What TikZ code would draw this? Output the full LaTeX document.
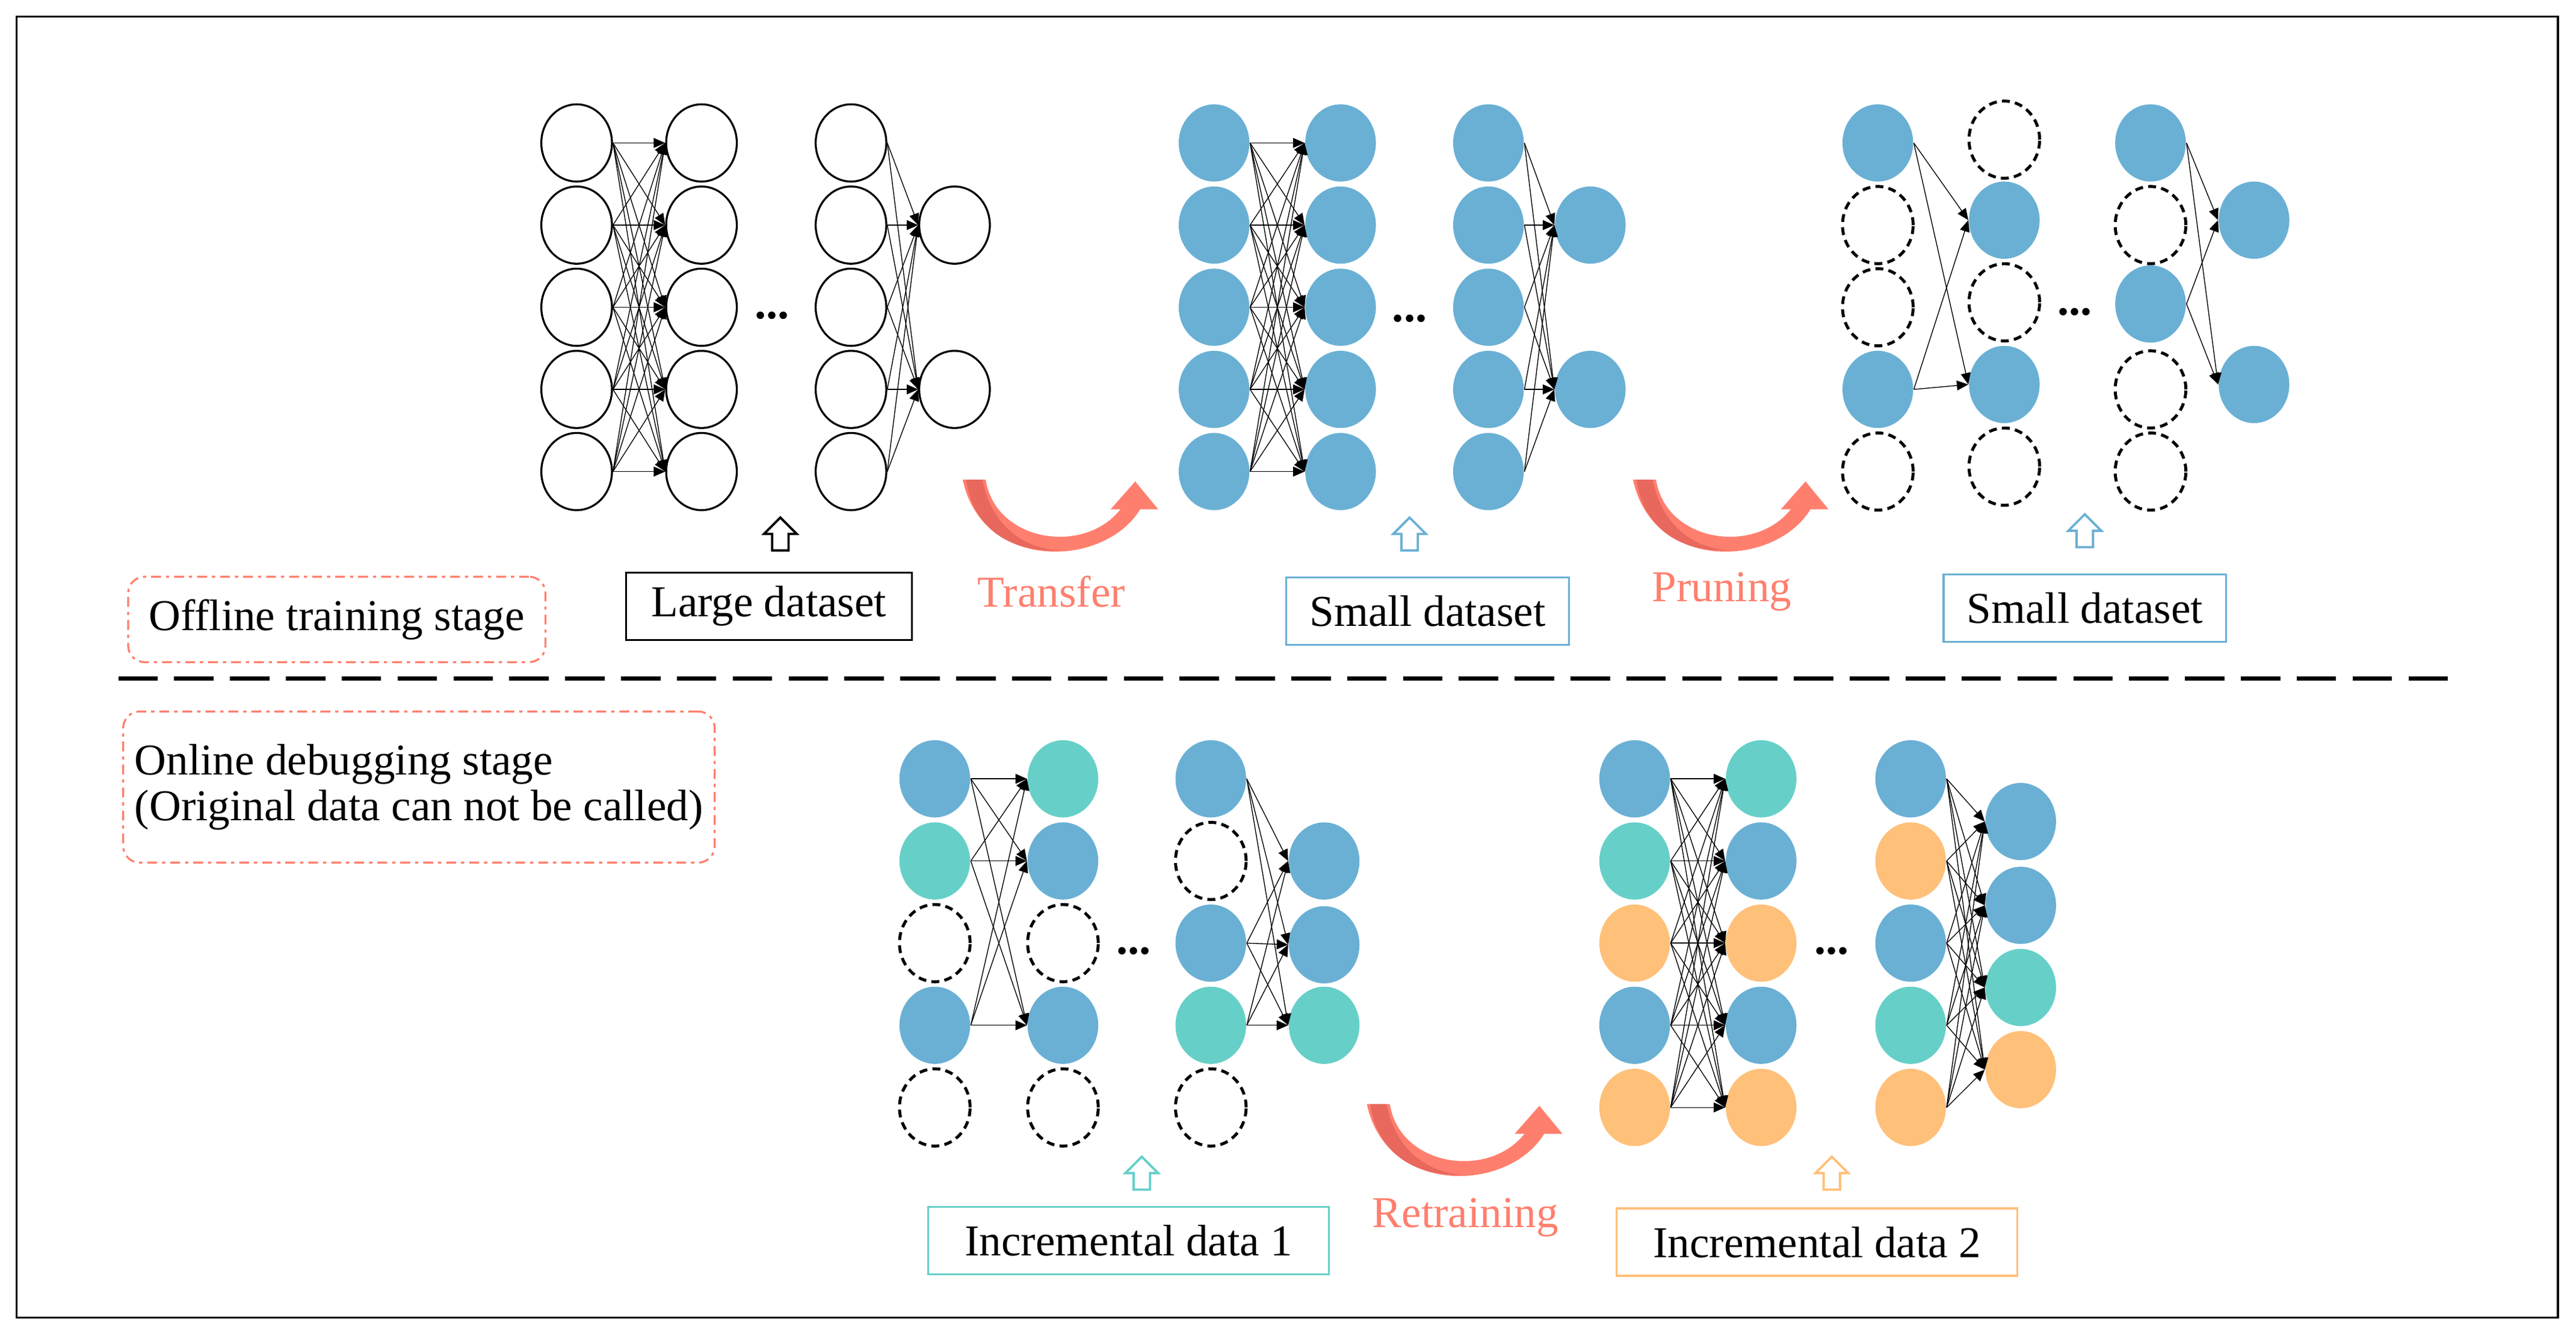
\documentclass[tikz,border=0pt]{standalone}
\usepackage{fontspec}
\setmainfont{Liberation Serif}
\usetikzlibrary{shapes.geometric,arrows.meta}
\definecolor{nb}{HTML}{6AB0D4}
\definecolor{nt}{HTML}{66D0C8}
\definecolor{no}{HTML}{FFC07A}
\definecolor{sal}{HTML}{FF7F6E}
\definecolor{dsal}{HTML}{E8685E}
\begin{document}
\begin{tikzpicture}[x=0.5pt,y=-0.5pt,
  neu/.style={ellipse,minimum width=21.5pt,minimum height=23.5pt,inner sep=0pt},
  w/.style={neu,draw=black,line width=0.6pt,fill=white},
  b/.style={neu,fill=nb},
  t/.style={neu,fill=nt},
  o/.style={neu,fill=no},
  d/.style={neu,draw=black,line width=0.9pt,dash pattern=on 2.4pt off 1.6pt},
  edge/.style={line width=0.25pt,-{Triangle[length=3.5pt,width=3pt]}},
  lbl/.style={font=\fontsize{13.4}{15}\selectfont},
  dbox/.style={lbl,draw,line width=0.6pt,minimum height=20.5pt,inner sep=2pt},
  stage/.style={lbl,draw=sal,rounded corners=5pt,line width=0.6pt,dash pattern=on 3pt off 1.5pt on 1pt off 1.5pt},
  dots/.style={font=\bfseries\fontsize{14}{14}\selectfont},
  hollow/.style={line width=0.7pt,fill=white},
  tr/.style={lbl,text=sal}
]
\useasboundingbox (0,0) rectangle (1568,813);
\draw[line width=0.6pt] (10,10) rectangle (1557,802);
\draw[line width=1.3pt,dash pattern=on 12pt off 5pt] (72,413) -- (1490,413);

% ---------- Net 1 ----------
\foreach \r/\s [count=\k] in {87/w,137/w,187/w,237/w,287/w}{
  \node[\s] (p1-\k) at (351,\r) {};
  \node[\s] (p2-\k) at (427,\r) {};
  \node[\s] (p3-\k) at (518,\r) {};}
\node[w] (p4-1) at (581,137) {};
\node[w] (p4-2) at (581,237) {};
\foreach \i in {1,...,5}{\foreach \j in {1,...,5}{\draw[edge] (p1-\i.east) -- (p2-\j.west);}
  \foreach \j in {1,2}{\draw[edge] (p3-\i.east) -- (p4-\j.west);}}
\node[dots] (pd) at (470,192) {...};

% ---------- Net 2 ----------
\foreach \r [count=\k] in {87,137,187,237,287}{
  \node[b] (q1-\k) at (739,\r) {};
  \node[b] (q2-\k) at (816,\r) {};
  \node[b] (q3-\k) at (906,\r) {};}
\node[b] (q4-1) at (968,137) {};
\node[b] (q4-2) at (968,237) {};
\foreach \i in {1,...,5}{\foreach \j in {1,...,5}{\draw[edge] (q1-\i.east) -- (q2-\j.west);}
  \foreach \j in {1,2}{\draw[edge] (q3-\i.east) -- (q4-\j.west);}}
\node[dots] (qd) at (858,194) {...};

% ---------- Net 3 ----------
\foreach \r/\s [count=\k] in {87/b,137/d,187/d,237/b,287/d}{\node[\s] (r1-\k) at (1143,\r) {};}
\foreach \r/\s [count=\k] in {85/d,134/b,184/d,234/b,284/d}{\node[\s] (r2-\k) at (1220,\r) {};}
\foreach \r/\s [count=\k] in {87/b,137/d,185/b,237/d,287/d}{\node[\s] (r3-\k) at (1309,\r) {};}
\node[b] (r4-1) at (1372,134) {};
\node[b] (r4-2) at (1372,234) {};
\foreach \i in {1,4}{\foreach \j in {2,4}{\draw[edge] (r1-\i.east) -- (r2-\j.west);}}
\foreach \i in {1,3}{\foreach \j in {1,2}{\draw[edge] (r3-\i.east) -- (r4-\j.west);}}
\node[dots] (rd) at (1263,190) {...};

% ---------- Net A (bottom) ----------
\foreach \r/\s [count=\k] in {474/b,524/t,574/d,624/b,674/d}{\node[\s] (a1-\k) at (569,\r) {};}
\foreach \r/\s [count=\k] in {474/t,524/b,574/d,624/b,674/d}{\node[\s] (a2-\k) at (647,\r) {};}
\foreach \r/\s [count=\k] in {474/b,524/d,574/b,624/t,674/d}{\node[\s] (a3-\k) at (737,\r) {};}
\foreach \r/\s [count=\k] in {524/b,575/b,624/t}{\node[\s] (a4-\k) at (806,\r) {};}
\foreach \i in {1,2,4}{\foreach \j in {1,2,4}{\draw[edge] (a1-\i.east) -- (a2-\j.west);}}
\foreach \i in {1,3,4}{\foreach \j in {1,2,3}{\draw[edge] (a3-\i.east) -- (a4-\j.west);}}
\node[dots] (ad) at (690,579) {...};

% ---------- Net B (bottom) ----------
\foreach \r/\s [count=\k] in {474/b,524/t,574/o,624/b,674/o}{\node[\s] (b1-\k) at (995,\r) {};}
\foreach \r/\s [count=\k] in {474/t,524/b,574/o,624/b,674/o}{\node[\s] (b2-\k) at (1072,\r) {};}
\foreach \r/\s [count=\k] in {474/b,524/o,574/b,624/t,674/o}{\node[\s] (b3-\k) at (1163,\r) {};}
\foreach \r/\s [count=\k] in {500/b,551/b,601/t,651/o}{\node[\s] (b4-\k) at (1230,\r) {};}
\foreach \i in {1,...,5}{\foreach \j in {1,...,5}{\draw[edge] (b1-\i.east) -- (b2-\j.west);}
  \foreach \j in {1,...,4}{\draw[edge] (b3-\i.east) -- (b4-\j.west);}}
\node[dots] (bd) at (1115,579) {...};

% ---------- hollow arrows ----------
\foreach \x/\y/\c in {475/325/black,858/325/nb,1269/323/nb,695/714/nt,1115/714/no}{
  \draw[hollow,draw=\c] (\x-5,\y+10) -- (\x+5,\y+10) -- (\x+5,\y) -- (\x+10,\y) -- (\x,\y-10) -- (\x-10,\y) -- (\x-5,\y) -- cycle;}

% ---------- dataset boxes ----------
\node[dbox,minimum width=87pt] (ld) at (468,369) {Large dataset};
\node[dbox,draw=nb,minimum width=86pt] (sd1) at (869,372) {Small dataset};
\node[dbox,draw=nb,minimum width=86pt] (sd2) at (1269,370) {Small dataset};
\node[dbox,draw=nt,minimum width=122pt] (id1) at (687,755) {Incremental data 1};
\node[dbox,draw=no,minimum width=122pt] (id2) at (1106,756) {Incremental data 2};

% ---------- stage boxes ----------
\node[stage,minimum width=127pt,minimum height=26pt] (off) at (205,377) {Offline training stage};
\node[stage,minimum width=180pt,minimum height=46pt,align=left,inner sep=1pt] (on) at (255,479)
  {Online debugging stage\\[-1pt](Original data can not be called)};

% ---------- curved arrows ----------
\foreach \x/\y in {0/0,408/0,246/380}{
\begin{scope}[shift={(\x,\y)}]
  \fill[sal] (586,292) -- (600,292) .. controls (606,330) and (660,338) .. (682,310)
     -- (676,310) -- (691,293) -- (705,310) -- (694,310)
     .. controls (672,346) and (598,348) .. (586,292) -- cycle;
  \fill[dsal] (588,292) -- (598,292) .. controls (604,322) and (625,334) .. (645,335)
     .. controls (610,336) and (592,318) .. (588,292) -- cycle;
\end{scope}}
\node[tr] (ttr) at (640,360) {Transfer};
\node[tr] (tpr) at (1048,360) {Pruning};
\node[tr] (tre) at (892,741) {Retraining};
\end{tikzpicture}
\end{document}
